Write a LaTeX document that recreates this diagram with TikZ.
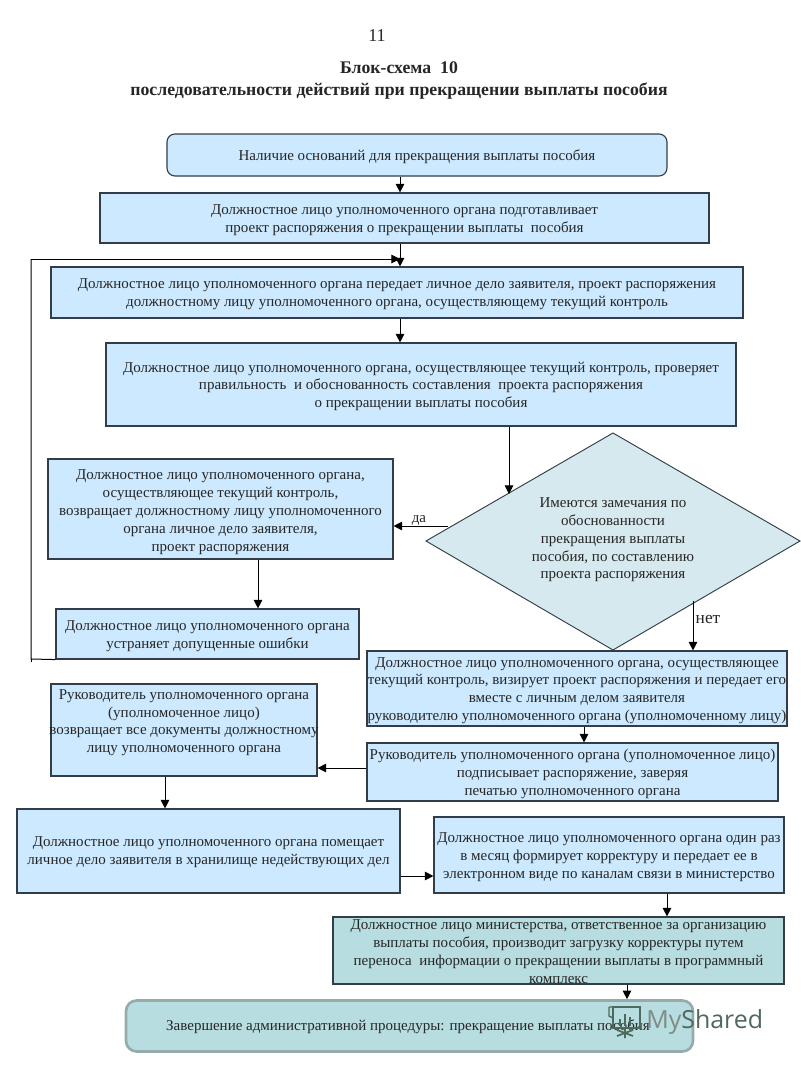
\documentclass[tikz,border=0pt]{standalone}
\usepackage{fontspec}
\setmainfont{Liberation Serif}
\newfontfamily\wmfont{Open Sans}
\definecolor{lb}{HTML}{CCE9FF}
\definecolor{tl}{HTML}{B8DDE0}
\definecolor{dm}{HTML}{D6E9EE}
\definecolor{ln}{HTML}{333D48}
\definecolor{wmA}{HTML}{7E8B86}
\definecolor{wmB}{HTML}{4E6A5C}
\definecolor{txt}{HTML}{262626}
\usetikzlibrary{arrows.meta}
\newcommand\tp[1][10.5pt]{\rule{0pt}{#1}}
\tikzset{
 bx/.style={draw=ln,line width=0.85pt,fill=lb,inner sep=0pt,align=center,font=\fontsize{11.25}{13.35}\selectfont,text=txt},
 tbx/.style={bx,fill=tl},
 lbl/.style={font=\fontsize{11.25}{13.35}\selectfont,align=center,text=txt},
 arr/.style={draw=black,line width=0.75pt,-{Triangle[length=6.5pt,width=6.5pt]}},
 lnk/.style={draw=black,line width=0.75pt}
}
\begin{document}
\begin{tikzpicture}[x=0.75pt,y=-0.75pt]
\useasboundingbox (0,0) rectangle (800,1067);
\fill[white] (0,0) rectangle (800,1067);
\node[font=\fontsize{13.5}{15}\selectfont,text=txt] (pg) at (377,36) {11};
\node[font=\fontsize{13.3}{16.5}\selectfont\bfseries,align=center,text=txt] (ttl) at (399,80) {Блок-схема\ \ 10\\последовательности действий при прекращении выплаты пособия};
\node[bx,rounded corners=6pt,minimum width=375pt,minimum height=31.5pt] (n1) at (417,155) {\tp Наличие оснований для прекращения выплаты пособия};
\node[bx,minimum width=456.75pt,minimum height=37.5pt] (n2) at (404.5,218) {\tp Должностное лицо уполномоченного органа подготавливает\\проект распоряжения о прекращении выплаты\ \ пособия};
\node[bx,minimum width=519pt,minimum height=38.25pt] (n3) at (397,292.5) {\tp Должностное лицо уполномоченного органа передает личное дело заявителя, проект распоряжения\\должностному лицу уполномоченного органа, осуществляющему текущий контроль};
\node[bx,minimum width=472.5pt,minimum height=62.25pt] (n4) at (421,384.5) {\tp Должностное лицо уполномоченного органа, осуществляющее текущий контроль, проверяет\\правильность\ \ и обоснованность составления\ \ проекта распоряжения\\о прекращении выплаты пособия};
\draw[draw=ln,line width=0.7pt,fill=dm] (426,541) coordinate (dl) -- (613,433) coordinate (dt) -- (800,541) coordinate (dr) -- (613,650) coordinate (db) -- cycle;
\node[lbl] (q) at (613,540) {Имеются замечания по\\обоснованности\\прекращения выплаты\\пособия, по составлению\\проекта распоряжения};
\node[bx,minimum width=258.75pt,minimum height=75pt] (n5) at (220.5,509) {\tp[12pt]Должностное лицо уполномоченного органа,\\осуществляющее текущий контроль,\\возвращает должностному лицу уполномоченного\\органа личное дело заявителя,\\проект распоряжения};
\node[bx,minimum width=227.25pt,minimum height=37.5pt] (n6) at (207.5,634) {\tp Должностное лицо уполномоченного органа\\устраняет допущенные ошибки};
\node[bx,minimum width=315pt,minimum height=56.25pt] (n7) at (577,688.5) {\tp Должностное лицо уполномоченного органа, осуществляющее\\текущий контроль, визирует проект распоряжения и передает его\\вместе с личным делом заявителя\\\makebox[300pt][c]{руководителю уполномоченного органа (уполномоченному лицу)}};
\node[bx,minimum width=199.5pt,minimum height=69pt] (n8) at (184,730) {Руководитель уполномоченного органа\\(уполномоченное лицо)\\\makebox[190pt][c]{возвращает все документы должностному}\\лицу уполномоченного органа\\\mbox{}};
\node[bx,minimum width=308.25pt,minimum height=43.5pt] (n9) at (572.5,772) {\tp Руководитель уполномоченного органа (уполномоченное лицо)\\подписывает распоряжение, заверяя\\печатью уполномоченного органа};
\node[bx,minimum width=287.25pt,minimum height=63pt] (n10) at (208.5,851) {\tp[9pt]Должностное лицо уполномоченного органа помещает\\личное дело заявителя в хранилище недействующих дел};
\node[bx,minimum width=262.5pt,minimum height=57pt] (n11) at (609,855) {\tp Должностное лицо уполномоченного органа один раз\\в месяц формирует корректуру и передает ее в\\электронном виде по каналам связи в министерство};
\node[tbx,minimum width=338.25pt,minimum height=50.25pt] (n12) at (558.5,950.5) {\tp[9pt]Должностное лицо министерства, ответственное за организацию\\выплаты пособия, производит загрузку корректуры путем\\переноса\ \ информации о прекращении выплаты в программный\\комплекс};
\node[tbx,draw=wmA!60!tl,line width=2pt,rounded corners=8pt,minimum width=425.25pt,minimum height=38.25pt] (n13) at (409.5,1026) {};
\node[lbl] (n13t) at (408,1027) {Завершение административной процедуры: прекращение выплаты пособия};
\node[lbl] (da) at (419,520) {да};
\node[lbl,font=\fontsize{13}{15}\selectfont] (net) at (708,619) {нет};
% guides
\coordinate (x400) at (400,0);
\coordinate (x509) at (509,0);
\coordinate (x258) at (258,0);
\coordinate (x693) at (693,0);
\coordinate (x584) at (584,0);
\coordinate (x165) at (165,0);
\coordinate (x667) at (667,0);
\coordinate (x627) at (627,0);
\coordinate (y526) at (0,526);
\coordinate (y768) at (0,768);
\coordinate (y876) at (0,876);
\coordinate (dmA) at (509,494);
\coordinate (dmB) at (448,526);
\coordinate (dmC) at (693,601);
\coordinate (fb1) at (31,659);
\coordinate (fb0) at (31,662);
\coordinate (fb2) at (31,259);
\coordinate (fb3) at (400,259);
\draw[arr] (n1.south -| x400) -- (n2.north -| x400);
\draw[arr] (n2.south -| x400) -- (n3.north -| x400);
\draw[arr] (n3.south -| x400) -- (n4.north -| x400);
\draw[arr] (n4.south -| x509) -- (dmA);
\draw[arr] (dmB) -- (n5.east |- y526);
\draw[arr] (n5.south -| x258) -- (n6.north -| x258);
\draw[arr] (dmC) -- (n7.north -| x693);
\draw[arr] (n7.south -| x584) -- (n9.north -| x584);
\draw[arr] (n9.west |- y768) -- (n8.east |- y768);
\draw[arr] (n8.south -| x165) -- (n10.north -| x165);
\draw[arr] (n10.east |- y876) -- (n11.west |- y876);
\draw[arr] (n11.south -| x667) -- (n12.north -| x667);
\draw[arr] (n12.south -| x627) -- (n13.north -| x627);
\draw[lnk] (n6.south west) -- (fb1) -- (fb2);
\draw[lnk] (fb1) -- (fb0);
\draw[arr] (fb2) -- (fb3);
% watermark
\node[font=\wmfont\fontsize{18.7}{24}\selectfont,inner sep=0pt,anchor=west] (wm) at (646,1022) {\textcolor{wmA}{My}\textcolor{wmB}{Shared}};
\draw[wmB,line width=1.1pt,fill=none] (613,1007) rectangle (640,1028);
\draw[wmB,line width=1.1pt] (609,1007) -- (640,1007) (609,1007) -- (609,1016) -- (613,1018);
\draw[wmB,line width=1.3pt] (625,1014) -- (625,1026) (620,1019) -- (620,1026) (630,1017) -- (630,1026);
\draw[wmB,line width=1.3pt] (625,1029) -- (625,1038) (617,1036) -- (633,1030) (617,1030) -- (633,1036);
\end{tikzpicture}
\end{document}
